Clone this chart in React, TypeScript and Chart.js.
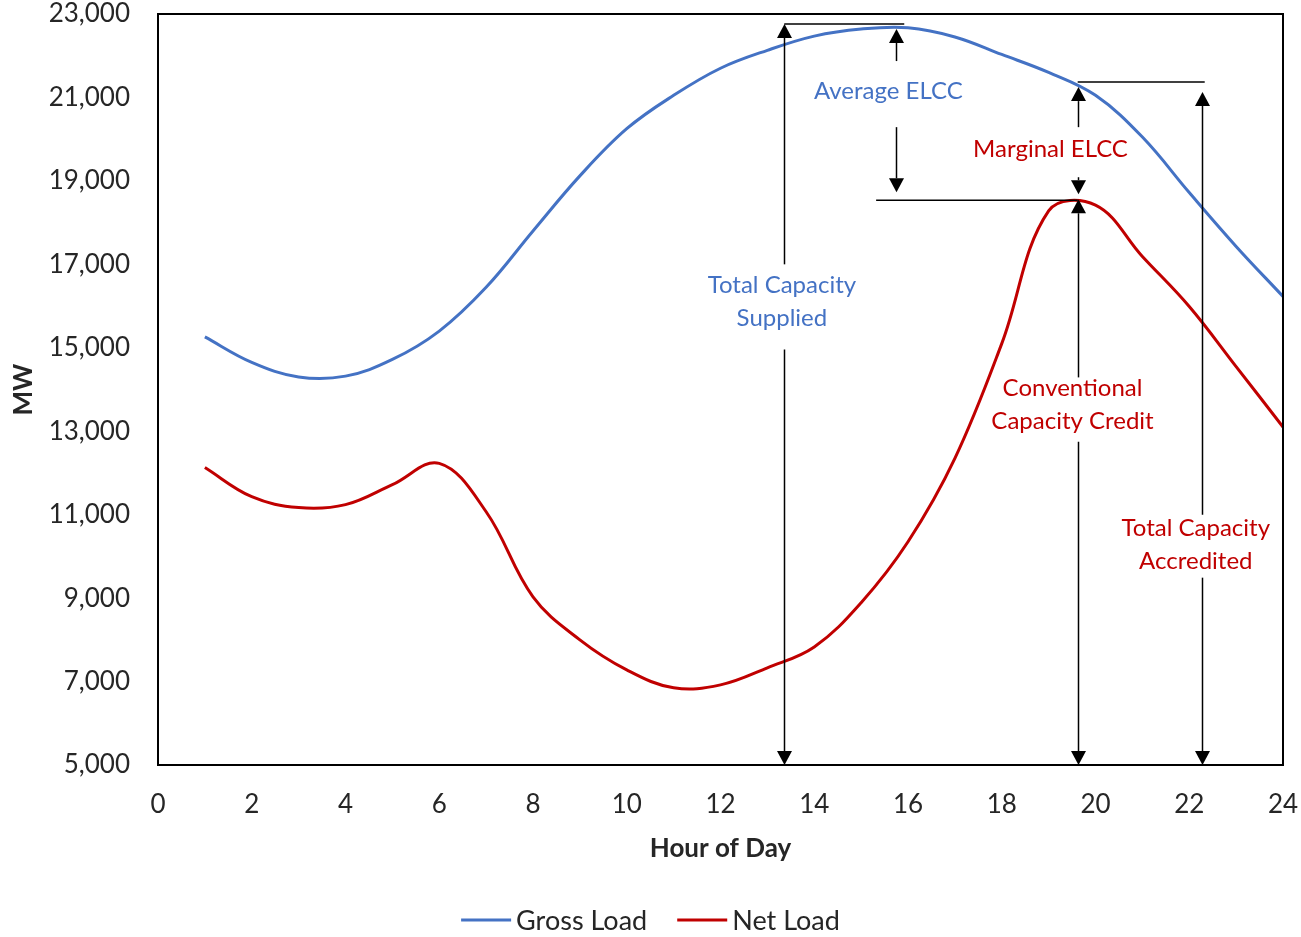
import React, { useEffect, useRef } from 'react';
import { Chart, registerables } from 'chart.js';

Chart.register(...registerables);

// ---- data ----
const hours = [1, 2, 3, 4, 5, 6, 7, 8, 9, 10, 11, 12, 13, 14, 15, 16, 17, 18, 19, 20, 21, 22, 23, 24];
const grossLoad = [15260, 14650, 14300, 14320, 14720, 15400, 16450, 17800, 19120, 20250, 21050, 21700, 22130, 22470, 22640, 22670, 22450, 22030, 21600, 21050, 20050, 18720, 17430, 16230];
const netLoad = [12130, 11430, 11170, 11240, 11720, 12230, 11070, 9030, 8000, 7280, 6850, 6920, 7330, 7830, 8890, 10350, 12350, 15100, 18280, 18420, 17190, 15990, 14550, 13100];
const seriesNames = ['Gross Load', 'Net Load'];
const seriesColors = ['#4472C4', '#C00000'];
const yTickMin = 5000;
const yTickMax = 23000;
const yTickStep = 2000;
const xTickMin = 0;
const xTickMax = 24;
const xTickStep = 2;
const xTitle = 'Hour of Day';
const yTitle = 'MW';

// annotation arrows (hour, MW from -> MW to, arrowhead at "to")
const arrowX = [13.36, 13.36, 15.75, 15.75, 19.62, 19.62, 19.62, 19.62, 22.27, 22.27];
const arrowFrom = [17000, 14960, 21872, 20288, 20288, 19088, 14290, 12750, 11000, 9490];
const arrowTo = [22760, 5000, 22640, 18728, 21248, 18680, 18560, 5000, 21128, 5000];
// plain horizontal reference lines (MW level, hour start -> hour end)
const refLineY = [22760, 18536, 21368];
const refLineX0 = [13.36, 15.32, 19.62];
const refLineX1 = [15.92, 19.62, 22.33];
// text labels
const labelText = [['Average ELCC'], ['Marginal ELCC'], ['Total Capacity', 'Supplied'], ['Conventional', 'Capacity Credit'], ['Total Capacity', 'Accredited']];
const labelX = [15.58, 19.04, 13.31, 19.51, 22.14];
const labelY = [21152, 19760, 16100, 13628, 10268];
const labelSeries = [0, 1, 0, 1, 1];

const FONT = 'Lato, "Open Sans", sans-serif';
const TEXT_COLOR = '#262626';

const overlayPlugin = {
  id: 'overlay',
  afterDatasetsDraw(chart: any) {
    const { ctx, chartArea } = chart;
    const xs = chart.scales.x;
    const ys = chart.scales.y;
    ctx.save();
    ctx.strokeStyle = '#000';
    ctx.fillStyle = '#000';
    ctx.lineWidth = 1.5;
    // horizontal lines
    for (let i = 0; i < refLineY.length; i++) {
      const py = ys.getPixelForValue(refLineY[i]);
      ctx.beginPath();
      ctx.moveTo(xs.getPixelForValue(refLineX0[i]), py);
      ctx.lineTo(xs.getPixelForValue(refLineX1[i]), py);
      ctx.stroke();
    }
    // arrows
    const headLen = 14;
    const headHalf = 7.5;
    for (let i = 0; i < arrowX.length; i++) {
      const px = Math.round(xs.getPixelForValue(arrowX[i])) + 0.5;
      const p0 = ys.getPixelForValue(arrowFrom[i]);
      const p1 = ys.getPixelForValue(arrowTo[i]);
      const dir = p1 > p0 ? 1 : -1;
      const base = p1 - dir * headLen;
      if ((base - p0) * dir > 0) {
        ctx.beginPath();
        ctx.moveTo(px, p0);
        ctx.lineTo(px, base);
        ctx.stroke();
      }
      ctx.beginPath();
      ctx.moveTo(px, p1);
      ctx.lineTo(px - headHalf, base);
      ctx.lineTo(px + headHalf, base);
      ctx.closePath();
      ctx.fill();
    }
    // labels
    ctx.font = `24px ${FONT}`;
    ctx.textAlign = 'center';
    ctx.textBaseline = 'middle';
    const lh = 33;
    for (let i = 0; i < labelText.length; i++) {
      const lines = labelText[i];
      const cx = xs.getPixelForValue(labelX[i]);
      const cy = ys.getPixelForValue(labelY[i]);
      ctx.fillStyle = seriesColors[labelSeries[i]];
      lines.forEach((t, k) => {
        ctx.fillText(t, cx, cy + (k - (lines.length - 1) / 2) * lh);
      });
    }
    // plot border
    ctx.strokeStyle = '#000';
    ctx.lineWidth = 2;
    ctx.strokeRect(chartArea.left, chartArea.top, chartArea.right - chartArea.left, chartArea.bottom - chartArea.top);
    ctx.restore();
  },
  afterDraw(chart: any) {
    const { ctx } = chart;
    ctx.save();
    ctx.font = `27px ${FONT}`;
    ctx.textBaseline = 'middle';
    ctx.textAlign = 'left';
    const lineLen = 50;
    const gap = 5;
    const itemGap = 30;
    const widths = seriesNames.map((n) => lineLen + gap + ctx.measureText(n).width);
    const total = widths.reduce((a, b) => a + b, 0) + itemGap * (widths.length - 1);
    let x = chart.width / 2 - total / 2;
    const y = chart.chartArea.bottom + 155;
    seriesNames.forEach((n, i) => {
      ctx.strokeStyle = seriesColors[i];
      ctx.lineWidth = 3;
      ctx.beginPath();
      ctx.moveTo(x, y);
      ctx.lineTo(x + lineLen, y);
      ctx.stroke();
      ctx.fillStyle = TEXT_COLOR;
      ctx.fillText(n, x + lineLen + gap, y + 1);
      x += widths[i] + itemGap;
    });
    ctx.restore();
  },
};

export default function App() {
  const canvasRef = useRef<HTMLCanvasElement | null>(null);

  useEffect(() => {
    if (!canvasRef.current) return;
    Chart.defaults.font.family = FONT;
    const chart = new Chart(canvasRef.current, {
      type: 'line',
      data: {
        datasets: [
          {
            label: seriesNames[0],
            data: hours.map((h, i) => ({ x: h, y: grossLoad[i] })),
            borderColor: seriesColors[0],
            backgroundColor: seriesColors[0],
            borderWidth: 3,
            pointRadius: 0,
            tension: 0.38,
            fill: false,
          },
          {
            label: seriesNames[1],
            data: hours.map((h, i) => ({ x: h, y: netLoad[i] })),
            borderColor: seriesColors[1],
            backgroundColor: seriesColors[1],
            borderWidth: 3,
            pointRadius: 0,
            tension: 0.38,
            fill: false,
          },
        ],
      },
      options: {
        animation: false,
        responsive: true,
        maintainAspectRatio: false,
        layout: { padding: { top: 14, right: 18, bottom: 0, left: 0 } },
        plugins: {
          legend: { display: false },
          tooltip: { enabled: false },
        },
        scales: {
          x: {
            type: 'linear',
            min: xTickMin,
            max: xTickMax,
            grid: { display: false, drawTicks: false },
            border: { display: false },
            ticks: {
              stepSize: xTickStep,
              padding: 24,
              color: TEXT_COLOR,
              font: { size: 26, family: FONT },
              maxRotation: 0,
            },
            title: {
              display: true,
              text: xTitle,
              color: TEXT_COLOR,
              font: { size: 26, weight: 'bold', family: FONT },
              padding: { top: 0, bottom: 73 },
            },
            afterFit: (s: any) => {
              s.height = 172;
              s.paddingLeft = 0;
              s.paddingRight = 0;
            },
          },
          y: {
            type: 'linear',
            min: yTickMin,
            max: yTickMax,
            grid: { display: false, drawTicks: false },
            border: { display: false },
            ticks: {
              stepSize: yTickStep,
              padding: 28,
              color: TEXT_COLOR,
              font: { size: 26, family: FONT },
              callback: (v: any) => Number(v).toLocaleString('en-US'),
            },
            title: {
              display: true,
              text: yTitle,
              color: TEXT_COLOR,
              font: { size: 26, weight: 'bold', family: FONT },
              padding: { top: 8, bottom: 0 },
            },
            afterFit: (s: any) => {
              s.width = 158;
              s.paddingTop = 0;
              s.paddingBottom = 0;
            },
          },
        },
      },
      plugins: [overlayPlugin],
    } as any);
    return () => chart.destroy();
  }, []);

  return (
    <div style={{ position: 'fixed', left: 0, top: 0, width: 1301, height: 937, background: '#fff' }}>
      <canvas ref={canvasRef} />
    </div>
  );
}
